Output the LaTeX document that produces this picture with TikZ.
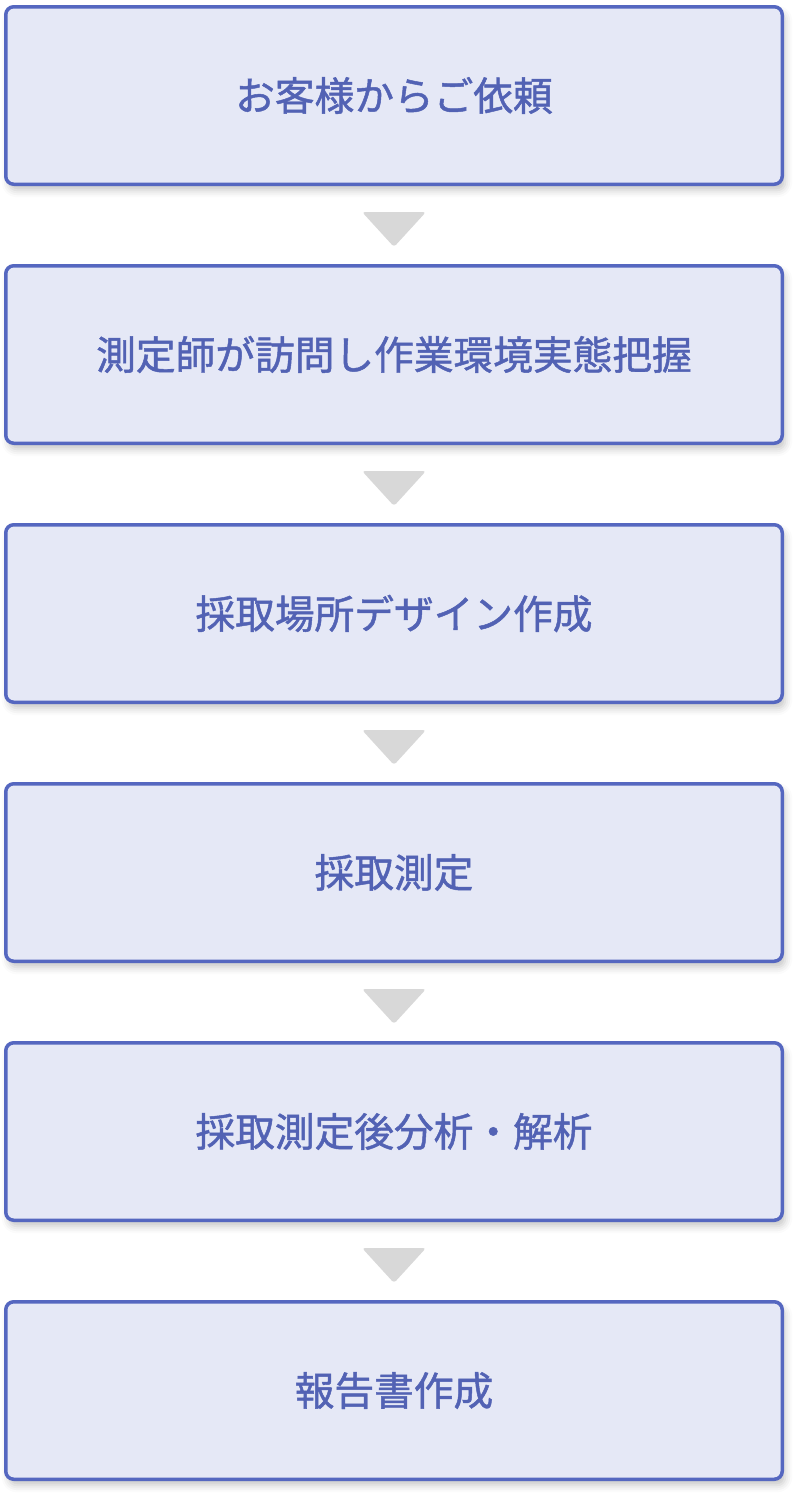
\documentclass[tikz,border=0pt]{standalone}
\usepackage{fontspec}
\newfontfamily\jpfont[FakeBold=1.2]{Noto Sans CJK JP}
\usepackage{tikz}
\usetikzlibrary{chains,shadows.blur}
\definecolor{boxfill}{HTML}{E5E8F6}
\definecolor{boxline}{HTML}{5567C0}
\definecolor{boxtext}{HTML}{5262B4}
\definecolor{trigray}{HTML}{D8D8D8}

\begin{document}
\begin{tikzpicture}[
		start chain = going below,
		node distance = 81.5pt,
		StepBox/.style={draw=boxline, fill=boxfill, line width=3.5pt,
			rounded corners=8pt, minimum width=776.5pt, minimum height=177.5pt,
			outer sep=0pt, on chain, text=boxtext,
			font=\jpfont\fontsize{39.7}{46}\selectfont,
			blur shadow={shadow xshift=3pt, shadow yshift=-6pt,
				shadow blur radius=7pt, shadow opacity=22}},
		DownTri/.style={fill=trigray, rounded corners=3pt},
		]
		\useasboundingbox (0,0) rectangle (802pt,-1499pt);
		\node [StepBox, at={(394pt,-95.5pt)}] (1) {お客様からご依頼};
		\node [StepBox] (2) {測定師が訪問し作業環境実態把握};
		\node [StepBox] (3) {採取場所デザイン作成};
		\node [StepBox] (4) {採取測定};
		\node [StepBox] (5) {採取測定後分析・解析};
		\node [StepBox] (6) {報告書作成};
		
		\foreach \a in {1,...,5}
		\fill [DownTri] ([xshift=-32pt, yshift=-27.75pt]\a.south)
			-- ++(64pt,0) -- ++(-32pt,-35pt) -- cycle;
		
\end{tikzpicture}
\end{document}
